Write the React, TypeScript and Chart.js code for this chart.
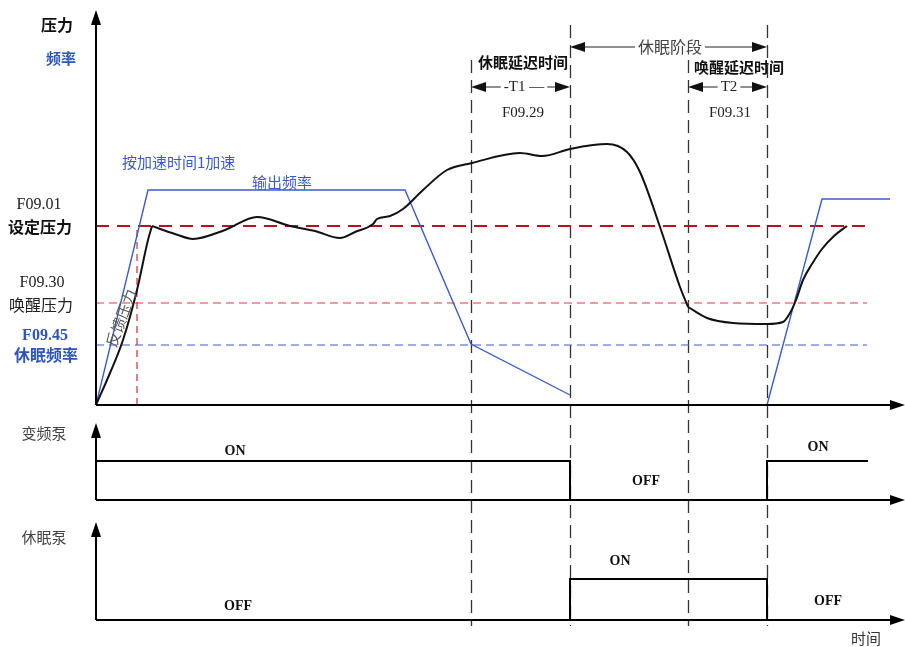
import React, { useEffect, useRef } from 'react';
import { Chart, registerables } from 'chart.js';

Chart.register(...registerables);

// ---------------- data ----------------
// time axis units (0 = origin of the time axis)
const TIME_END = 809;
// panel value ranges
const MAIN_TOP = 395;
const VFD_TOP = 95;
const SLEEP_TOP = 120;

// feedback pressure: initial rise
const riseTime = [0, 14, 27, 41, 52, 56];
const risePressure = [0, 32, 65, 115, 165, 179];
// feedback pressure: regulation and sleep phase
const holdTime = [56, 79, 97, 129, 161, 194, 219, 244, 259, 277, 281, 294, 307, 327, 351, 376, 424, 446, 474, 497, 511, 531, 544, 564, 584, 592];
const holdPressure = [179, 171, 166, 175, 188, 179, 174, 167, 173, 181, 186, 189, 196, 215, 235, 242, 252, 249, 256, 260, 261, 253, 233, 178, 118, 98];
// feedback pressure: wake phase
const wakeTime = [592, 611, 637, 671, 687, 694, 700, 707, 716, 726, 738, 751];
const wakePressure = [98, 87, 82, 81, 83, 92, 105, 125, 141, 156, 169, 179];

// output frequency
const freqTime = [0, 52, 309, 375, 474, 560, 671, 726, 794];
const freqValue = [0, 215, 215, 61, 10, null, 0, 206, 206];

// reference levels
const SET_PRESSURE = 179;
const WAKE_PRESSURE = 102;
const SLEEP_FREQ = 60;
const REF_END = 771;
const ACCEL_MARK = 41;

// event times: sleep delay start, sleep start, wake delay start, wake
const eventTimes = [375, 474, 592, 671];
const eventTops = [345, 380, 345, 380];
const EVENT_BOTTOM = -6;

// pump states
const vfdTime = [0, 474, 474, 671, 671, 772];
const vfdState = [39, 39, 0, 0, 39, 39];
const sleepTime = [474, 474, 671, 671];
const sleepState = [0, 41, 41, 0];

// axis arrow tips
const MAIN_TIP = 395;
const VFD_TIP = 77;
const SLEEP_TIP = 98;

// annotation levels (main panel units)
const PHASE_ARROW_LEVEL = 358;
const DELAY_ARROW_LEVEL = 318;

const zip = (xs: number[], ys: (number | null)[]) => xs.map((x, i) => ({ x, y: ys[i] }));

const SANS = "'Noto Sans CJK SC', sans-serif";
const SERIF = "'Liberation Serif', 'Noto Sans CJK SC', serif";

type Label = {
  text: string; x: number; y: number; size: number; bold?: boolean; color?: string;
  family?: string; align?: CanvasTextAlign; bg?: boolean; rotate?: number;
};

const BLUE_TXT = '#2f55b8';
const labels: Label[] = [
  { text: '压力', x: 57, y: 25, size: 16, bold: true, color: '#111' },
  { text: '频率', x: 61, y: 58, size: 15, bold: true, color: BLUE_TXT },
  { text: 'F09.01', x: 39, y: 205, size: 16, family: SERIF, color: '#222' },
  { text: '设定压力', x: 40, y: 227, size: 16, bold: true, color: '#111' },
  { text: 'F09.30', x: 42, y: 283, size: 16, family: SERIF, color: '#222' },
  { text: '唤醒压力', x: 41, y: 305, size: 16, color: '#222' },
  { text: 'F09.45', x: 45, y: 336, size: 16, bold: true, family: SERIF, color: BLUE_TXT },
  { text: '休眠频率', x: 46, y: 355, size: 16, bold: true, color: BLUE_TXT },
  { text: '反馈压力', x: 121, y: 318, size: 15, color: '#555', rotate: -70 },
  { text: '按加速时间1加速', x: 122, y: 162, size: 15, color: '#3b5cc0', align: 'left' },
  { text: '输出频率', x: 252, y: 182, size: 15, color: '#3b5cc0', align: 'left' },
  { text: '休眠阶段', x: 670, y: 47, size: 16, color: '#444', bg: true },
  { text: '休眠延迟时间', x: 523, y: 62, size: 15, bold: true, color: '#111' },
  { text: '-T1 —', x: 524, y: 87, size: 15, family: SERIF, color: '#222', bg: true },
  { text: 'F09.29', x: 523, y: 113, size: 15, family: SERIF, color: '#222' },
  { text: '唤醒延迟时间', x: 739, y: 67, size: 15, bold: true, color: '#111' },
  { text: 'T2', x: 729, y: 87, size: 15, family: SERIF, color: '#222', bg: true },
  { text: 'F09.31', x: 730, y: 113, size: 15, family: SERIF, color: '#222' },
  { text: '变频泵', x: 44, y: 433, size: 15, color: '#444' },
  { text: 'ON', x: 235, y: 451, size: 14, bold: true, family: SERIF, color: '#111' },
  { text: 'OFF', x: 646, y: 481, size: 14, bold: true, family: SERIF, color: '#111' },
  { text: 'ON', x: 818, y: 447, size: 14, bold: true, family: SERIF, color: '#111' },
  { text: '休眠泵', x: 44, y: 537, size: 15, color: '#444' },
  { text: 'ON', x: 620, y: 561, size: 14, bold: true, family: SERIF, color: '#111' },
  { text: 'OFF', x: 238, y: 606, size: 14, bold: true, family: SERIF, color: '#111' },
  { text: 'OFF', x: 828, y: 601, size: 14, bold: true, family: SERIF, color: '#111' },
  { text: '时间', x: 866, y: 638, size: 15, color: '#333' },
];

function arrowHead(ctx: CanvasRenderingContext2D, x: number, y: number, dir: 'up' | 'right' | 'left', len = 14, half = 5) {
  ctx.beginPath();
  if (dir === 'up') {
    ctx.moveTo(x, y); ctx.lineTo(x - half, y + len); ctx.lineTo(x + half, y + len);
  } else if (dir === 'right') {
    ctx.moveTo(x, y); ctx.lineTo(x - len, y - half); ctx.lineTo(x - len, y + half);
  } else {
    ctx.moveTo(x, y); ctx.lineTo(x + len, y - half); ctx.lineTo(x + len, y + half);
  }
  ctx.closePath();
  ctx.fill();
}

const diagramPlugin = {
  id: 'diagram',
  beforeDatasetsDraw(chart: any) {
    const ctx: CanvasRenderingContext2D = chart.ctx;
    const { x, yMain, ySleep } = chart.scales;
    ctx.save();
    ctx.strokeStyle = '#333';
    ctx.lineWidth = 1.3;
    ctx.setLineDash([13, 7]);
    eventTimes.forEach((t, i) => {
      const px = Math.round(x.getPixelForValue(t)) + 0.5;
      ctx.beginPath();
      ctx.moveTo(px, yMain.getPixelForValue(eventTops[i]));
      ctx.lineTo(px, ySleep.getPixelForValue(EVENT_BOTTOM));
      ctx.stroke();
    });
    ctx.restore();
  },
  afterDatasetsDraw(chart: any) {
    const ctx: CanvasRenderingContext2D = chart.ctx;
    const { x, yMain, yVfd, ySleep } = chart.scales;
    ctx.save();
    ctx.strokeStyle = '#000';
    ctx.fillStyle = '#000';
    ctx.lineWidth = 2;
    ctx.setLineDash([]);
    const x0 = x.getPixelForValue(0);
    const xEnd = x.getPixelForValue(TIME_END);
    const axes: [any, number][] = [[yMain, MAIN_TIP], [yVfd, VFD_TIP], [ySleep, SLEEP_TIP]];
    axes.forEach(([sc, tip]) => {
      const yb = sc.getPixelForValue(0);
      const yt = sc.getPixelForValue(tip);
      ctx.beginPath();
      ctx.moveTo(x0, yb);
      ctx.lineTo(x0, yt + 8);
      ctx.moveTo(x0, yb);
      ctx.lineTo(xEnd - 8, yb);
      ctx.stroke();
      arrowHead(ctx, x0, yt, 'up', 15, 5);
      arrowHead(ctx, xEnd, yb, 'right', 15, 5);
    });

    // time-span arrows
    ctx.strokeStyle = '#222';
    ctx.fillStyle = '#111';
    ctx.lineWidth = 1.2;
    const spans: [number, number, number][] = [
      [eventTimes[1], eventTimes[3], PHASE_ARROW_LEVEL],
      [eventTimes[0], eventTimes[1], DELAY_ARROW_LEVEL],
      [eventTimes[2], eventTimes[3], DELAY_ARROW_LEVEL],
    ];
    spans.forEach(([a, b, lvl]) => {
      const xa = x.getPixelForValue(a);
      const xb = x.getPixelForValue(b);
      const yy = yMain.getPixelForValue(lvl);
      ctx.beginPath();
      ctx.moveTo(xa + 10, yy);
      ctx.lineTo(xb - 10, yy);
      ctx.stroke();
      arrowHead(ctx, xa, yy, 'left', 15, 5);
      arrowHead(ctx, xb, yy, 'right', 15, 5);
    });

    // texts
    labels.forEach((l) => {
      ctx.save();
      ctx.font = `${l.bold ? 'bold ' : ''}${l.size}px ${l.family || SANS}`;
      ctx.textAlign = l.align || 'center';
      ctx.textBaseline = 'middle';
      ctx.translate(l.x, l.y);
      if (l.rotate) ctx.rotate((l.rotate * Math.PI) / 180);
      if (l.bg) {
        const w = ctx.measureText(l.text).width;
        ctx.fillStyle = '#fff';
        const left = ctx.textAlign === 'left' ? -3 : -w / 2 - 3;
        ctx.fillRect(left, -l.size / 2 - 2, w + 6, l.size + 4);
      }
      ctx.fillStyle = l.color || '#111';
      ctx.fillText(l.text, 0, 0);
      ctx.restore();
    });
    ctx.restore();
  },
};

export default function App() {
  const ref = useRef<HTMLCanvasElement>(null);
  useEffect(() => {
    document.body.style.margin = '0';
    document.body.style.overflow = 'hidden';
    document.body.style.background = '#fff';
    const line = (data: any[], color: string, width: number, yAxisID: string, extra: any = {}) => ({
      data, borderColor: color, borderWidth: width, pointRadius: 0, fill: false,
      xAxisID: 'x', yAxisID, spanGaps: false, tension: 0, ...extra,
    });
    const chart = new Chart(ref.current!, {
      type: 'line',
      data: {
        datasets: [
          line(zip(riseTime, risePressure), '#111', 2, 'yMain', { cubicInterpolationMode: 'monotone' }),
          line(zip(holdTime, holdPressure), '#111', 2, 'yMain', { cubicInterpolationMode: 'monotone' }),
          line(zip(wakeTime, wakePressure), '#111', 2, 'yMain', { cubicInterpolationMode: 'monotone' }),
          line(zip(freqTime, freqValue), '#3a5cc6', 1.4, 'yMain'),
          line(zip([0, REF_END], [SET_PRESSURE, SET_PRESSURE]), '#b3151c', 2.2, 'yMain', { borderDash: [13, 8] }),
          line(zip([0, REF_END], [WAKE_PRESSURE, WAKE_PRESSURE]), '#e23a3e', 1.2, 'yMain', { borderDash: [8, 5] }),
          line(zip([0, REF_END], [SLEEP_FREQ, SLEEP_FREQ]), '#3a5ccd', 1.2, 'yMain', { borderDash: [8, 5] }),
          line(zip([ACCEL_MARK, ACCEL_MARK], [0, SET_PRESSURE]), '#d42a2a', 1.2, 'yMain', { borderDash: [7, 5] }),
          line(zip(vfdTime, vfdState), '#000', 2, 'yVfd'),
          line(zip(sleepTime, sleepState), '#000', 2, 'ySleep'),
        ],
      },
      options: {
        animation: false,
        responsive: false,
        events: [],
        layout: { padding: { left: 96, right: 0, top: 10, bottom: 27 } },
        plugins: { legend: { display: false }, tooltip: { enabled: false } },
        scales: {
          x: { type: 'linear', display: false, min: 0, max: TIME_END },
          yMain: { type: 'linear', display: false, position: 'left', min: 0, max: MAIN_TOP, stack: 'panels', stackWeight: MAIN_TOP, weight: 3 },
          yVfd: { type: 'linear', display: false, position: 'left', min: 0, max: VFD_TOP, stack: 'panels', stackWeight: VFD_TOP, weight: 2 },
          ySleep: { type: 'linear', display: false, position: 'left', min: 0, max: SLEEP_TOP, stack: 'panels', stackWeight: SLEEP_TOP, weight: 1 },
        },
      } as any,
      plugins: [diagramPlugin],
    });
    return () => chart.destroy();
  }, []);
  return <canvas ref={ref} width={905} height={647} style={{ display: 'block', width: 905, height: 647 }} />;
}
